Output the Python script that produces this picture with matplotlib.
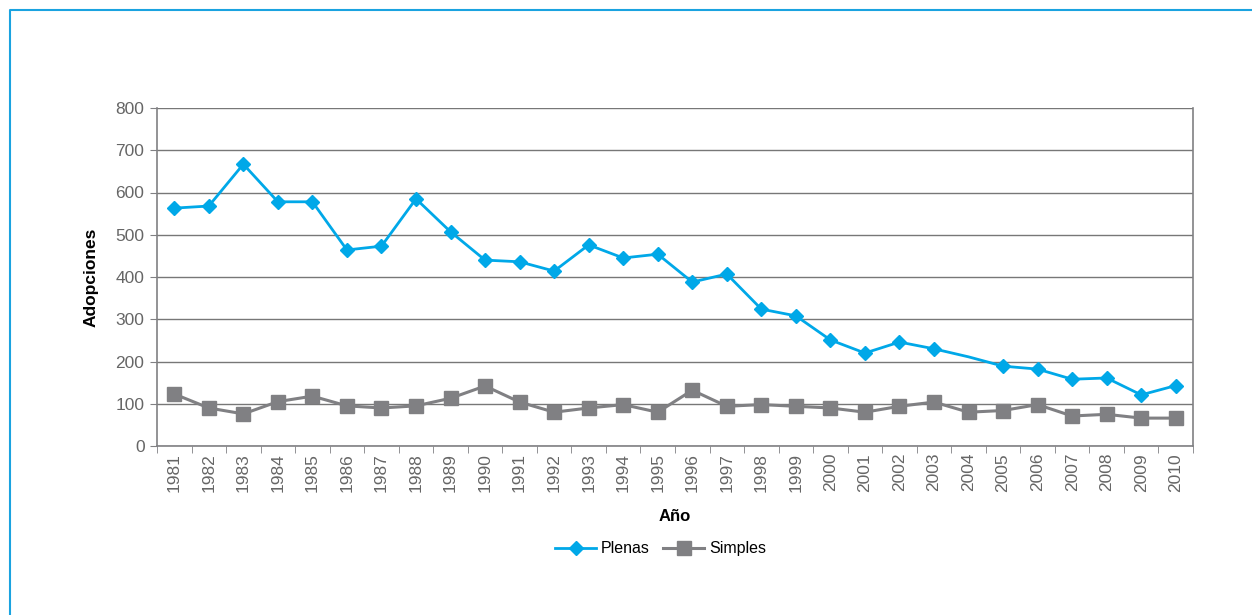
import matplotlib.pyplot as plt
from matplotlib.lines import Line2D
import numpy as np

years = [str(y) for y in range(1981, 2011)]
plenas = [563, 568, 667, 578, 578, 464, 473, 585, 507, 440,
          436, 414, 476, 445, 454, 388, 407, 324, 308, 251,
          220, 246, 230, 211, 189, 182, 158, 161, 121, 143]
simples = [123, 90, 76, 105, 118, 95, 90, 95, 113, 142,
           104, 80, 90, 98, 80, 132, 94, 98, 94, 90,
           80, 94, 104, 80, 84, 98, 71, 75, 66, 66]

plt.rcParams['font.family'] = ['Liberation Sans', 'DejaVu Sans']

blue = '#00a8e8'
grey = '#808083'
txt = '#666666'

fig = plt.figure(figsize=(12.52, 6.15), dpi=100)
ax = fig.add_axes([157 / 1252, 1 - 446 / 615, (1193 - 157) / 1252, (446 - 108) / 615])

x = np.arange(len(years))
# 2004 has no marker in the original
marks = [i for i in x if years[i] != '2004']
ax.plot(x, plenas, color=blue, lw=2, marker='D', ms=7, markevery=marks, label='Plenas', zorder=3)
ax.plot(x, simples, color=grey, lw=2.2, marker='s', ms=10, label='Simples', zorder=3)

ax.set_xlim(-0.5, len(years) - 0.5)
ax.set_ylim(0, 800)
ax.set_yticks(range(0, 801, 100))
ax.yaxis.grid(True, color='#777777', lw=1)
ax.set_axisbelow(True)

ax.set_xticks(x)
ax.set_xticklabels(years, rotation=90)
ax.set_xticks(np.arange(-0.5, len(years)), minor=True)
ax.tick_params(axis='x', which='major', length=0, pad=5, labelsize=12.5, labelcolor=txt)
ax.tick_params(axis='x', which='minor', length=5, color=grey, direction='out')
ax.tick_params(axis='y', length=5, color=grey, labelsize=12.5, labelcolor=txt, pad=4)

for side in ['left', 'bottom', 'right']:
    ax.spines[side].set_color(grey)
    ax.spines[side].set_linewidth(1.2)
ax.spines['top'].set_visible(False)

ax.set_ylabel('Adopciones', fontsize=12.5, fontweight='bold', labelpad=12)
ax.set_xlabel('Año', fontsize=12, fontweight='bold', labelpad=12)

ax.legend(loc='upper center', bbox_to_anchor=(0.486, -0.24), ncol=2, frameon=False,
          fontsize=11.5, handlelength=2.6, handletextpad=0.3, columnspacing=0.8)

# outer frame of the panel
fig.add_artist(Line2D([10 / 1252, 10 / 1252, 1.0], [0.0, 1 - 10 / 615, 1 - 10 / 615],
                      color='#1aa3e0', lw=1.5, transform=fig.transFigure))

fig.savefig('out.png', dpi=100)
